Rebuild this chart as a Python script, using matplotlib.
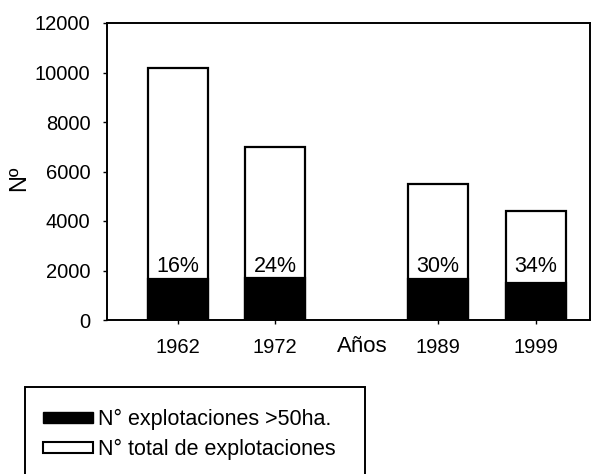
import matplotlib
matplotlib.use('Agg')
import matplotlib.pyplot as plt
from matplotlib.patches import Patch, Rectangle

# ---- data ----
years = ['1962', '1972', '1989', '1999']
total = [10200, 7000, 5500, 4400]          # Nº total de explotaciones
large = [1650, 1680, 1650, 1500]           # Nº explotaciones >50ha.
pct_labels = ['16%', '24%', '30%', '34%']
y_ticks = [0, 2000, 4000, 6000, 8000, 10000, 12000]
x_axis_label = 'Años'
y_axis_label = 'Nº'
legend_labels = ['N° explotaciones >50ha.', 'N° total de explotaciones']

# ---- layout ----
x_pos = [1.47, 3.48, 6.85, 8.88]
bar_w = 1.24
W, H = 591, 474

plt.rcParams['font.family'] = ['Liberation Sans', 'DejaVu Sans']
fig = plt.figure(figsize=(W/100, H/100), dpi=100)
ax = fig.add_axes([107/W, 1-320/H, 483/W, 297/H])

ax.bar(x_pos, total, width=bar_w, color='white', edgecolor='black', linewidth=1.6, zorder=2)
ax.bar(x_pos, large, width=bar_w, color='black', edgecolor='black', linewidth=1.6, zorder=3)
for x, p in zip(x_pos, pct_labels):
    ax.text(x, 2150, p, ha='center', va='center', fontsize=15.5, zorder=4)

ax.set_xlim(0, 10)
ax.set_ylim(0, 12000)
ax.set_yticks(y_ticks)
ax.set_xticks(x_pos)
ax.set_xticklabels(years)
ax.tick_params(axis='both', direction='out', length=3, width=1, labelsize=14.5, color='black')
ax.tick_params(axis='x', pad=10)
ax.tick_params(axis='y', pad=9)
for s in ax.spines.values():
    s.set_linewidth(1.4)
    s.set_color('black')

ax.set_xlabel(x_axis_label, fontsize=16)
ax.xaxis.label.set_va('center')
ax.xaxis.set_label_coords(255/483, -27/297)
ax.set_ylabel(y_axis_label, fontsize=17)
ax.yaxis.label.set_va('center')
ax.yaxis.set_label_coords(-88/483, 142/297)

# legend frame (extends past the bottom edge, as in the reference)
fig.patches.append(Rectangle((25/W, -10/H), 340/W, (H-387+10)/H,
                             transform=fig.transFigure, facecolor='white',
                             edgecolor='black', linewidth=1.4, zorder=0))
handles = [Patch(facecolor='black', edgecolor='black'),
           Patch(facecolor='white', edgecolor='black', linewidth=1.5)]
leg = fig.legend(handles, legend_labels, loc='upper left',
                 bbox_to_anchor=(43/W, 1-409/H), fontsize=15.5,
                 frameon=False,
                 handlelength=2.3, handleheight=0.38, handletextpad=0.25,
                 labelspacing=0.42, borderpad=0, borderaxespad=0)

fig.savefig('out.png', dpi=100)
